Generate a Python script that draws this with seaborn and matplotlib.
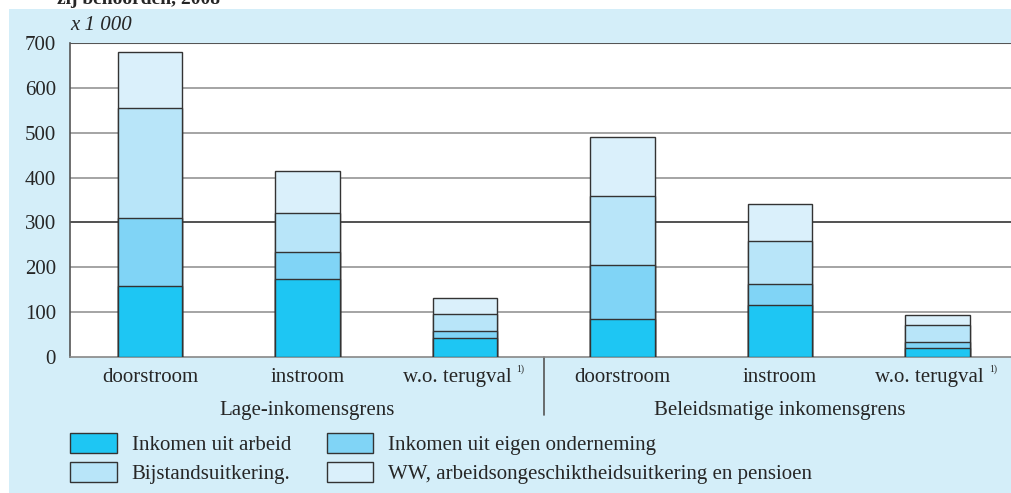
import pandas as pd
import matplotlib.pyplot as plt
import seaborn as sns
from matplotlib.patches import Patch, Rectangle
from matplotlib.transforms import ScaledTranslation

# Data (x 1 000)
keys = ["L-door", "L-in", "L-terug", "B-door", "B-in", "B-terug"]
sub_labels = ["doorstroom", "instroom", "w.o. terugval",
              "doorstroom", "instroom", "w.o. terugval"]
groups = ["Lage-inkomensgrens", "Beleidsmatige inkomensgrens"]
arbeid = [158, 175, 43, 84, 115, 19]
onderneming = [152, 58, 15, 122, 48, 14]
bijstand = [245, 88, 38, 154, 96, 38]
ww = [125, 94, 36, 130, 81, 22]

series = ["Inkomen uit arbeid", "Inkomen uit eigen onderneming",
          "Bijstandsuitkering.", "WW, arbeidsongeschiktheidsuitkering en pensioen"]
colors = ["#1ec6f3", "#80d4f6", "#b8e5f9", "#daf0fb"]
panel = "#d4eef9"

sns.set_style("white")
plt.rcParams["font.family"] = ["Liberation Serif", "DejaVu Serif"]
FS = 15

df = pd.DataFrame({"key": keys, "arbeid": arbeid, "onderneming": onderneming,
                   "bijstand": bijstand, "ww": ww})
cols = ["arbeid", "onderneming", "bijstand", "ww"]
cum = df[cols].cumsum(axis=1)

fig = plt.figure(figsize=(10.12, 4.93), dpi=100)
fig.patches.append(Rectangle((9 / 1012, 0), 1, 1 - 9 / 493, transform=fig.transFigure,
                             facecolor=panel, edgecolor="none", zorder=-10))
fig.text(57 / 1012, 1 + 9 / 493, "zij behoorden, 2008", fontsize=14, fontweight="bold",
         va="top", ha="left")

ax = fig.add_axes([70 / 1012, 1 - 357 / 493, 1 - 70 / 1012, 314 / 493])
ax.set_facecolor("white")

# stacked bars: draw cumulative totals from the top down
for col, c in zip(reversed(cols), reversed(colors)):
    sns.barplot(x=df["key"], y=cum[col], order=keys, color=c, saturation=1,
                width=0.41, edgecolor="#333333", linewidth=1.0, errorbar=None,
                ax=ax, zorder=3)

ax.set_ylim(0, 700)
ax.set_xlim(-0.508, 5.473)
ax.set_yticks(range(0, 701, 100))
for y in range(100, 700, 100):
    ax.axhline(y, color="#222222" if y == 300 else "#8c8c8c", lw=1.1, zorder=1)
ax.axhline(700, color="#555555", lw=1.5, zorder=1)

ax.set_xticks(range(len(keys)))
ax.set_xticklabels(sub_labels)
ax.tick_params(axis="x", length=0, pad=8, labelsize=FS)
ax.tick_params(axis="y", length=0, pad=10, labelsize=FS)
ax.set_xlabel("")
ax.set_ylabel("")
for s in ["top", "right"]:
    ax.spines[s].set_visible(False)
ax.spines["left"].set_color("#555555")
ax.spines["bottom"].set_color("#888888")
ax.spines["left"].set_linewidth(1.2)
ax.spines["bottom"].set_linewidth(1.2)

# shift the footnoted labels left and add the superscript
trans = ax.get_xaxis_transform()
for i, lab in enumerate(ax.get_xticklabels()):
    if "terugval" in lab.get_text():
        lab.set_transform(lab.get_transform() + ScaledTranslation(-8 / 100, 0, fig.dpi_scale_trans))
        ax.annotate("1)", xy=(i, 0), xycoords=trans, xytext=(40, -8.5),
                    textcoords="offset points", fontsize=7, ha="center", va="center",
                    annotation_clip=False)

ax.text(0, 1 + 18 / 314, "x 1 000", transform=ax.transAxes, fontsize=FS,
        style="italic", ha="left", va="center")

ax.text(1, -54 / 314, groups[0], transform=trans, ha="center", va="center", fontsize=FS)
ax.text(4, -54 / 314, groups[1], transform=trans, ha="center", va="center", fontsize=FS)
ax.plot([2.5, 2.5], [0, -58 / 314], transform=trans, color="#555555", lw=1.2,
        clip_on=False)

handles = [Patch(facecolor=c, edgecolor="#333333", lw=1.0) for c in colors]
order = [0, 2, 1, 3]
fig.legend([handles[i] for i in order], [series[i] for i in order], ncol=2,
           loc="upper left", bbox_to_anchor=(64 / 1012, 1 - 427 / 493),
           frameon=False, fontsize=FS, handlelength=2.25, handleheight=1.05,
           handletextpad=0.7, columnspacing=1.7, labelspacing=0.35,
           borderaxespad=0, borderpad=0.3)

fig.savefig("out.png", dpi=100, facecolor="white")
